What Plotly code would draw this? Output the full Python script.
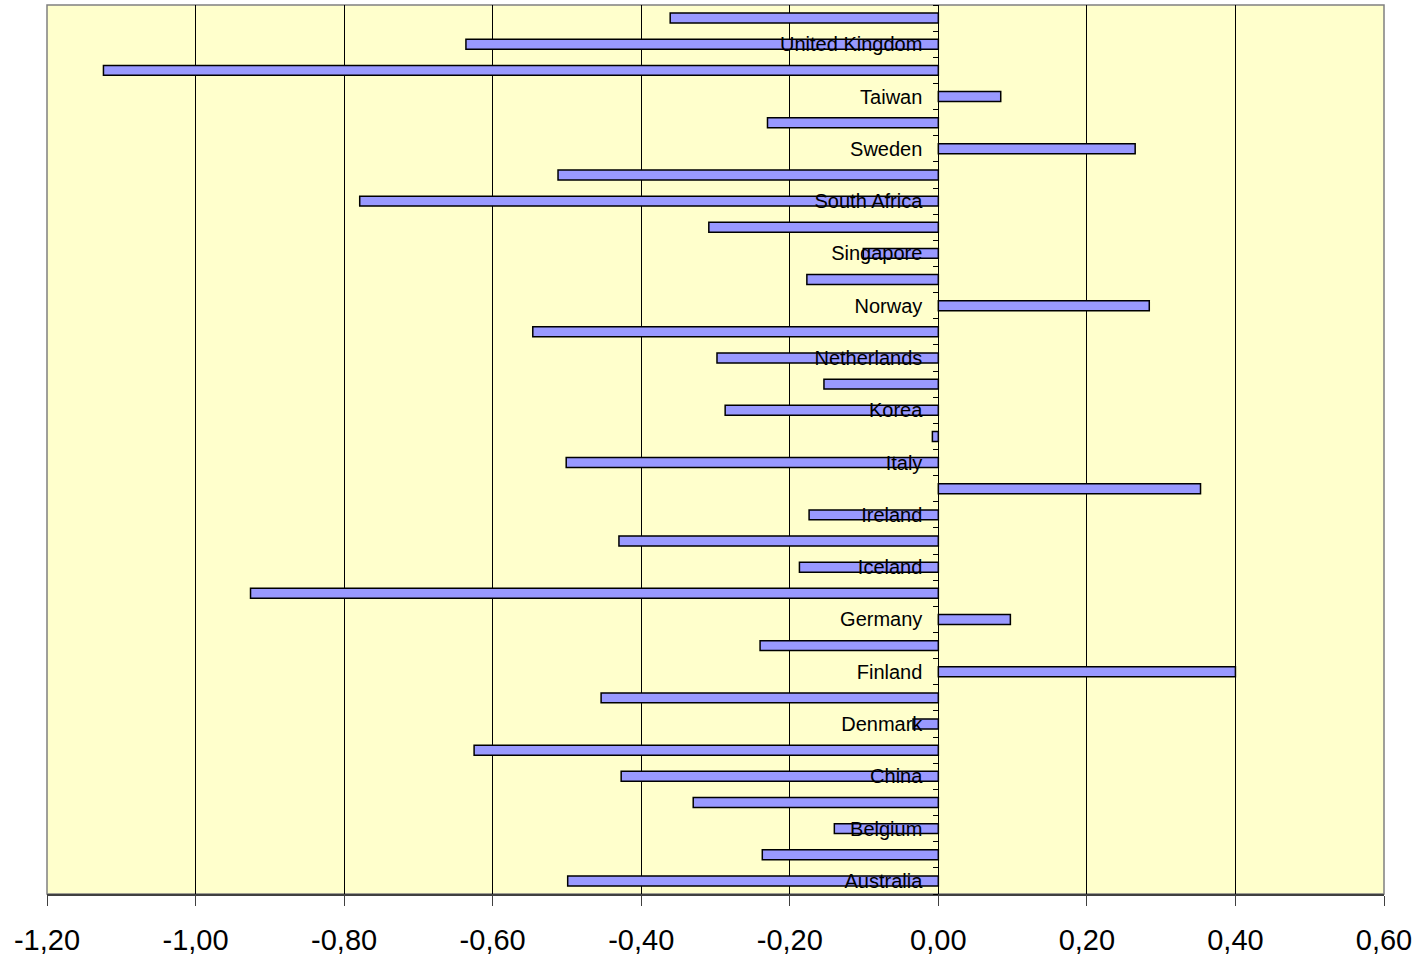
import plotly.graph_objects as go

# Categories bottom -> top
countries = ["Australia", "Austria", "Belgium", "Canada", "China", "Czech Republic",
             "Denmark", "Estonia", "Finland", "France", "Germany", "Hong Kong",
             "Iceland", "India", "Ireland", "Israel", "Italy", "Japan", "Korea",
             "Mexico", "Netherlands", "New Zealand", "Norway", "Russia", "Singapore",
             "Slovenia", "South Africa", "Spain", "Sweden", "Switzerland", "Taiwan",
             "Thailand", "United Kingdom", "United States"]
values = [-0.499, -0.237, -0.140, -0.330, -0.427, -0.625,
          -0.034, -0.454, 0.400, -0.240, 0.097, -0.926,
          -0.187, -0.430, -0.174, 0.353, -0.501, -0.008, -0.287,
          -0.154, -0.298, -0.546, 0.284, -0.177, -0.101,
          -0.309, -0.779, -0.512, 0.265, -0.230, 0.084,
          -1.124, -0.636, -0.361]
# only every other category is labelled
tick_labels = [c if i % 2 == 0 else "" for i, c in enumerate(countries)]
x_ticks = [-1.2, -1.0, -0.8, -0.6, -0.4, -0.2, 0.0, 0.2, 0.4, 0.6]
x_tick_text = ["-1,20", "-1,00", "-0,80", "-0,60", "-0,40", "-0,20",
               "0,00", "0,20", "0,40", "0,60"]

fig = go.Figure(go.Bar(
    y=countries, x=values, orientation="h",
    marker=dict(color="#9999FF", line=dict(color="#000000", width=1.5)),
))

fig.update_layout(
    width=1427, height=960,
    margin=dict(l=47, r=43, t=5, b=66, autoexpand=False),
    paper_bgcolor="white", plot_bgcolor="#FFFFCC",
    bargap=0.62, showlegend=False,
    font=dict(family="Arial, Liberation Sans, sans-serif", color="black"),
    xaxis=dict(range=[-1.2, 0.6], tickvals=x_ticks, ticktext=x_tick_text,
               showgrid=True, gridcolor="#000000", gridwidth=1, zeroline=False,
               showline=True, linecolor="#404040", linewidth=1.5,
               ticks="outside", ticklen=10, tickcolor="#404040",
               ticklabelstandoff=9,
               tickfont=dict(size=29), domain=[0, 1], automargin=False),
    yaxis=dict(type="category", categoryorder="array", categoryarray=countries,
               tickvals=countries, ticktext=tick_labels,
               anchor="free", position=2/3, side="left", automargin=False,
               showline=True, linecolor="#000000", linewidth=1,
               ticks="outside", ticklen=5, tickcolor="#000000",
               tickson="boundaries", ticklabelstandoff=12,
               showgrid=False, tickfont=dict(size=20),
               range=[-0.5, len(countries) - 0.5]),
)

fig.add_shape(type="rect", xref="paper", yref="paper", x0=0, x1=1, y0=0, y1=1,
              line=dict(color="#808080", width=1.5), layer="below")

fig.write_html("out.html", config={"displayModeBar": False},
               post_script="document.body.style.margin='0px';document.body.style.overflow='hidden';")
